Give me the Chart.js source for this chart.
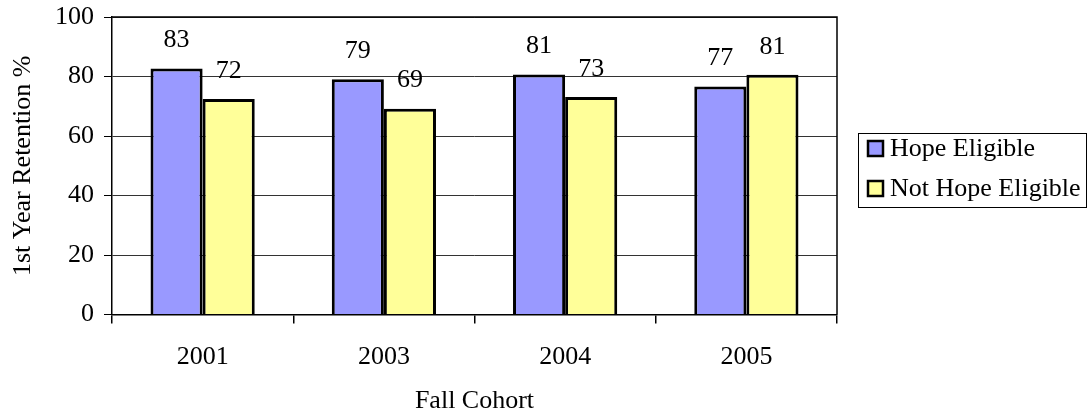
<!DOCTYPE html>
<html>
<head>
<meta charset="utf-8">
<script src="https://cdn.jsdelivr.net/npm/chart.js@4"></script>
<style>
  html, body { margin: 0; padding: 0; background: #fff; }
  #wrap { width: 1089px; height: 417px; }
</style>
</head>
<body>
<div id="wrap"><canvas id="chart" width="1089" height="417"></canvas></div>
<script>
// data
const cohorts = ["2001", "2003", "2004", "2005"];
const hopeEligible = [82.7, 79.1, 80.7, 76.6];
const notHopeEligible = [72.4, 69.2, 73.1, 80.6];
const yTicks = [0, 20, 40, 60, 80, 100];

const FONT = "'Liberation Serif', 'Times New Roman', serif";
const FS = 26;

// border round the plot area
const frame = {
  id: "frame",
  afterDraw(chart) {
    const { ctx, chartArea: a } = chart;
    ctx.save();
    ctx.strokeStyle = "#000";
    ctx.lineWidth = 1.5;
    ctx.beginPath();
    ctx.moveTo(a.left, a.top);
    ctx.lineTo(a.right, a.top);
    ctx.lineTo(a.right, a.bottom);
    ctx.stroke();
    ctx.restore();
  }
};

// value labels above bars
const valueLabels = {
  id: "valueLabels",
  afterDatasetsDraw(chart) {
    const { ctx } = chart;
    ctx.save();
    ctx.font = FS + "px " + FONT;
    ctx.fillStyle = "#000";
    ctx.textAlign = "center";
    ctx.textBaseline = "middle";
    chart.data.datasets.forEach((ds, i) => {
      chart.getDatasetMeta(i).data.forEach((bar, j) => {
        ctx.fillText(Math.round(ds.data[j]), bar.x, bar.y - 28);
      });
    });
    ctx.restore();
  }
};

// legend box at the right
const boxLegend = {
  id: "boxLegend",
  afterDraw(chart) {
    const { ctx } = chart;
    const x = 858, y = 133, w = 228, h = 74;
    ctx.save();
    ctx.strokeStyle = "#000";
    ctx.lineWidth = 1;
    ctx.strokeRect(x + 0.5, y + 0.5, w, h);
    ctx.font = FS + "px " + FONT;
    ctx.textBaseline = "middle";
    ctx.textAlign = "left";
    chart.data.datasets.forEach((ds, i) => {
      const cy = 149 + i * 40;
      ctx.fillStyle = ds.backgroundColor;
      ctx.fillRect(868, cy - 8, 15, 15);
      ctx.lineWidth = 2.5;
      ctx.strokeStyle = "#000";
      ctx.strokeRect(868, cy - 8, 15, 15);
      ctx.fillStyle = "#000";
      ctx.fillText(ds.label, 890, cy);
    });
    ctx.restore();
  }
};

new Chart(document.getElementById("chart"), {
  type: "bar",
  data: {
    labels: cohorts,
    datasets: [
      {
        label: "Hope Eligible",
        data: hopeEligible,
        backgroundColor: "#9999FF",
        borderColor: "#000",
        borderWidth: 3,
        borderSkipped: "bottom"
      },
      {
        label: "Not Hope Eligible",
        data: notHopeEligible,
        backgroundColor: "#FFFF99",
        borderColor: "#000",
        borderWidth: 3,
        borderSkipped: "bottom"
      }
    ]
  },
  options: {
    responsive: false,
    animation: false,
    layout: { padding: { top: 17, right: 252, left: 0, bottom: 0 } },
    plugins: {
      legend: { display: false },
      tooltip: { enabled: false }
    },
    datasets: { bar: { categoryPercentage: 0.575, barPercentage: 1 } },
    scales: {
      x: {
        grid: {
          offset: true,
          drawOnChartArea: false,
          drawTicks: true,
          tickLength: 9,
          color: "#000",
          lineWidth: 1.5
        },
        border: { color: "#000", width: 1.5 },
        ticks: { color: "#000", font: { family: FONT, size: FS }, padding: 18 },
        title: {
          display: true,
          text: "Fall Cohort",
          color: "#000",
          font: { family: FONT, size: FS },
          padding: { top: 18, bottom: 0 }
        },
        afterFit(scale) {
          scale.height = 417 - 314.5;
          scale.paddingLeft = 0;
          scale.paddingRight = 0;
        }
      },
      y: {
        min: 0,
        max: 100,
        afterBuildTicks(scale) { scale.ticks = yTicks.map(v => ({ value: v })); },
        grid: {
          color: "#333",
          lineWidth: 1,
          drawTicks: true,
          tickLength: 8,
          tickColor: "#000"
        },
        border: { color: "#000", width: 1.5 },
        ticks: { color: "#000", font: { family: FONT, size: FS }, padding: 10 },
        title: {
          display: true,
          text: "1st Year Retention %",
          color: "#000",
          font: { family: FONT, size: FS },
          padding: { top: 8, bottom: 6 }
        },
        afterFit(scale) {
          scale.width = 112;
          scale.paddingTop = 0;
          scale.paddingBottom = 0;
        }
      }
    }
  },
  plugins: [frame, valueLabels, boxLegend]
});
</script>
</body>
</html>
